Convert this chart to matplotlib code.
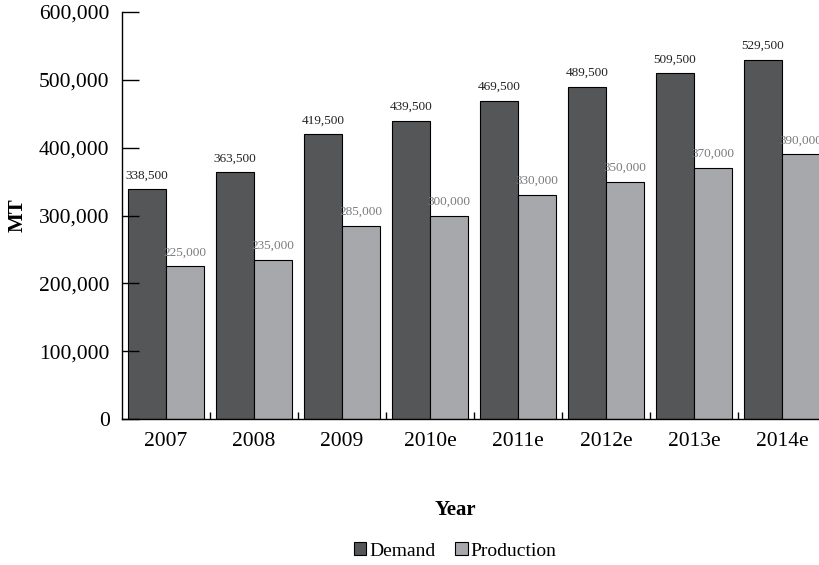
import numpy as np
import matplotlib
matplotlib.use('Agg')
import matplotlib.pyplot as plt
from matplotlib.ticker import FuncFormatter, FixedLocator

plt.rcParams['font.family'] = ['Liberation Serif', 'DejaVu Serif']

# Demand vs production by year (MT)
years = ['2007', '2008', '2009', '2010e', '2011e', '2012e', '2013e', '2014e']
demand = [338500, 363500, 419500, 439500, 469500, 489500, 509500, 529500]
production = [225000, 235000, 285000, 300000, 330000, 350000, 370000, 390000]

demand_color = '#555658'
production_color = '#a7a8ab'

fig = plt.figure(figsize=(8.19, 5.65), dpi=100)
ax = fig.add_axes([122 / 819, 1 - 419 / 565, 704 / 819, 407 / 565])

x = np.arange(len(years))
w = 0.43
ax.bar(x - w / 2, demand, w, color=demand_color, edgecolor='black', linewidth=0.8, label='Demand')
ax.bar(x + w / 2, production, w, color=production_color, edgecolor='black', linewidth=0.8, label='Production')

for xi, d, p in zip(x, demand, production):
    ax.text(xi - w / 2, d + 12000, f'{d:,}', ha='center', va='bottom', fontsize=9.5, color='#222222')
    ax.text(xi + w / 2, p + 12000, f'{p:,}', ha='center', va='bottom', fontsize=9.5, color='#7a7b7e')

ax.set_xlim(-0.5, len(years) - 0.5)
ax.set_ylim(0, 600000)
ax.set_yticks(range(0, 600001, 100000))
ax.yaxis.set_major_formatter(FuncFormatter(lambda v, _: f'{int(v):,}'))
ax.tick_params(axis='y', direction='in', length=12, width=1, labelsize=15.5, pad=9)

ax.set_xticks(x)
ax.set_xticklabels(years)
ax.xaxis.set_minor_locator(FixedLocator(x[:-1] + 0.5))
ax.tick_params(axis='x', which='major', length=0, labelsize=15.5, pad=9)
ax.tick_params(axis='x', which='minor', direction='in', length=5, width=1)

for s in ['top', 'right']:
    ax.spines[s].set_visible(False)
ax.spines['left'].set_linewidth(1)
ax.spines['bottom'].set_linewidth(1)

ax.set_ylabel('MT', fontsize=15, fontweight='bold', labelpad=8)
fig.text(455 / 819, 1 - 510 / 565, 'Year', ha='center', va='center', fontsize=15, fontweight='bold')

fig.legend(loc='center', bbox_to_anchor=(455 / 819, 1 - 551 / 565), ncol=2, frameon=False,
           fontsize=14, handlelength=0.65, handleheight=0.65, handletextpad=0.15, columnspacing=1.0)

fig.savefig('out.png', dpi=100)
